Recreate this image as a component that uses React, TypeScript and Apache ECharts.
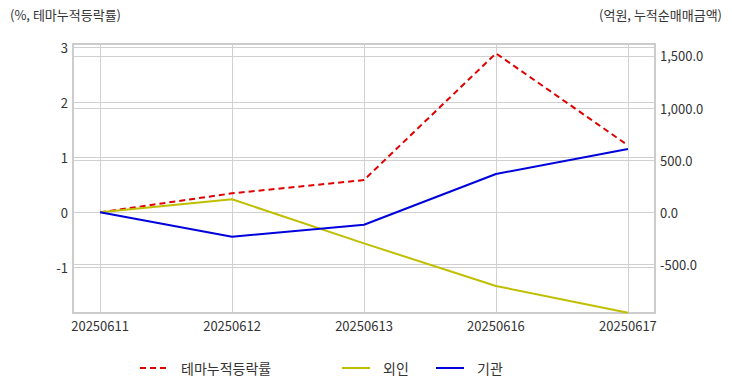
import React, { useEffect, useRef } from "react";
import * as echarts from "echarts";

const categories = ["20250611", "20250612", "20250613", "20250616", "20250617"];
const themeReturn = [0, 0.346, 0.588, 2.896, 1.22];
const foreign = [0, 125, -298, -707, -964];
const institution = [0, -234, -119, 368, 608];
const leftTicks = [-1, 0, 1, 2, 3];
const rightTicks = [-500, 0, 500, 1000, 1500];
const xTicks = [0, 1, 2, 3, 4];

const FONT = "'Noto Sans CJK KR', 'Noto Sans', sans-serif";

const legendBase = {
  top: 361,
  padding: 0,
  itemWidth: 28,
  itemHeight: 2,
  textStyle: { fontSize: 14, color: "#333", fontFamily: FONT, padding: [0, 0, 0, 8] },
};

export default function App() {
  const ref = useRef<HTMLDivElement>(null);
  useEffect(() => {
    if (!ref.current) return;
    const chart = echarts.init(ref.current, undefined, { renderer: "svg" });
    const toPairs = (arr: number[]) => arr.map((v, i) => [i, v]);
    chart.setOption({
      animation: false,
      textStyle: { fontFamily: FONT },
      grid: {
        left: 73,
        right: 77,
        top: 44,
        bottom: 79,
        show: true,
        borderColor: "#cccccc",
        borderWidth: 2,
        containLabel: false,
      },
      graphic: [
        {
          type: "text",
          left: 10,
          top: 8,
          style: { text: "(%, 테마누적등락률)", fontSize: 13, fill: "#333", fontFamily: FONT },
        },
        {
          type: "text",
          right: 10,
          top: 8,
          style: { text: "(억원, 누적순매매금액)", fontSize: 13, fill: "#333", fontFamily: FONT },
        },
      ],
      legend: [
        { ...legendBase, left: 139, data: ["테마누적등락률"] },
        { ...legendBase, left: 341, data: ["외인"] },
        { ...legendBase, left: 435, data: ["기관"] },
      ],
      xAxis: {
        type: "value",
        min: -0.205,
        max: 4.205,
        axisLine: { show: false },
        axisTick: { show: false, customValues: xTicks },
        axisLabel: {
          customValues: xTicks,
          fontSize: 13,
          color: "#333",
          margin: 6,
          formatter: (v: number) => categories[Math.round(v)] ?? "",
        },
        splitLine: { show: true, lineStyle: { color: "#d0d0d0", width: 1 } },
      },
      yAxis: [
        {
          type: "value",
          position: "left",
          min: -1.834,
          max: 3.066,
          axisLine: { show: false },
          axisTick: { show: false, customValues: leftTicks },
          axisLabel: {
            customValues: leftTicks,
            fontSize: 13,
            color: "#333",
            margin: 5,
            formatter: (v: number) => String(v),
          },
          splitLine: { show: true, lineStyle: { color: "#d0d0d0", width: 1 } },
        },
        {
          type: "value",
          position: "right",
          min: -966,
          max: 1615,
          axisLine: { show: false },
          axisTick: { show: false, customValues: rightTicks },
          axisLabel: {
            customValues: rightTicks,
            fontSize: 13,
            color: "#333",
            margin: 5,
            formatter: (v: number) =>
              v.toLocaleString("en-US", { minimumFractionDigits: 1, maximumFractionDigits: 1 }),
          },
          splitLine: { show: true, lineStyle: { color: "#d0d0d0", width: 1 } },
        },
      ],
      series: [
        {
          name: "테마누적등락률",
          type: "line",
          yAxisIndex: 0,
          data: toPairs(themeReturn),
          showSymbol: false,
          symbol: "none",
          lineStyle: { color: "#e00000", width: 2, type: [6, 4] },
          itemStyle: { color: "#e00000" },
        },
        {
          name: "외인",
          type: "line",
          yAxisIndex: 1,
          data: toPairs(foreign),
          showSymbol: false,
          symbol: "none",
          lineStyle: { color: "#bfbf00", width: 2 },
          itemStyle: { color: "#bfbf00" },
        },
        {
          name: "기관",
          type: "line",
          yAxisIndex: 1,
          data: toPairs(institution),
          showSymbol: false,
          symbol: "none",
          lineStyle: { color: "#0000dd", width: 2 },
          itemStyle: { color: "#0000dd" },
        },
      ],
    });
    return () => chart.dispose();
  }, []);
  return <div ref={ref} style={{ width: 732, height: 392, margin: -8 }} />;
}
